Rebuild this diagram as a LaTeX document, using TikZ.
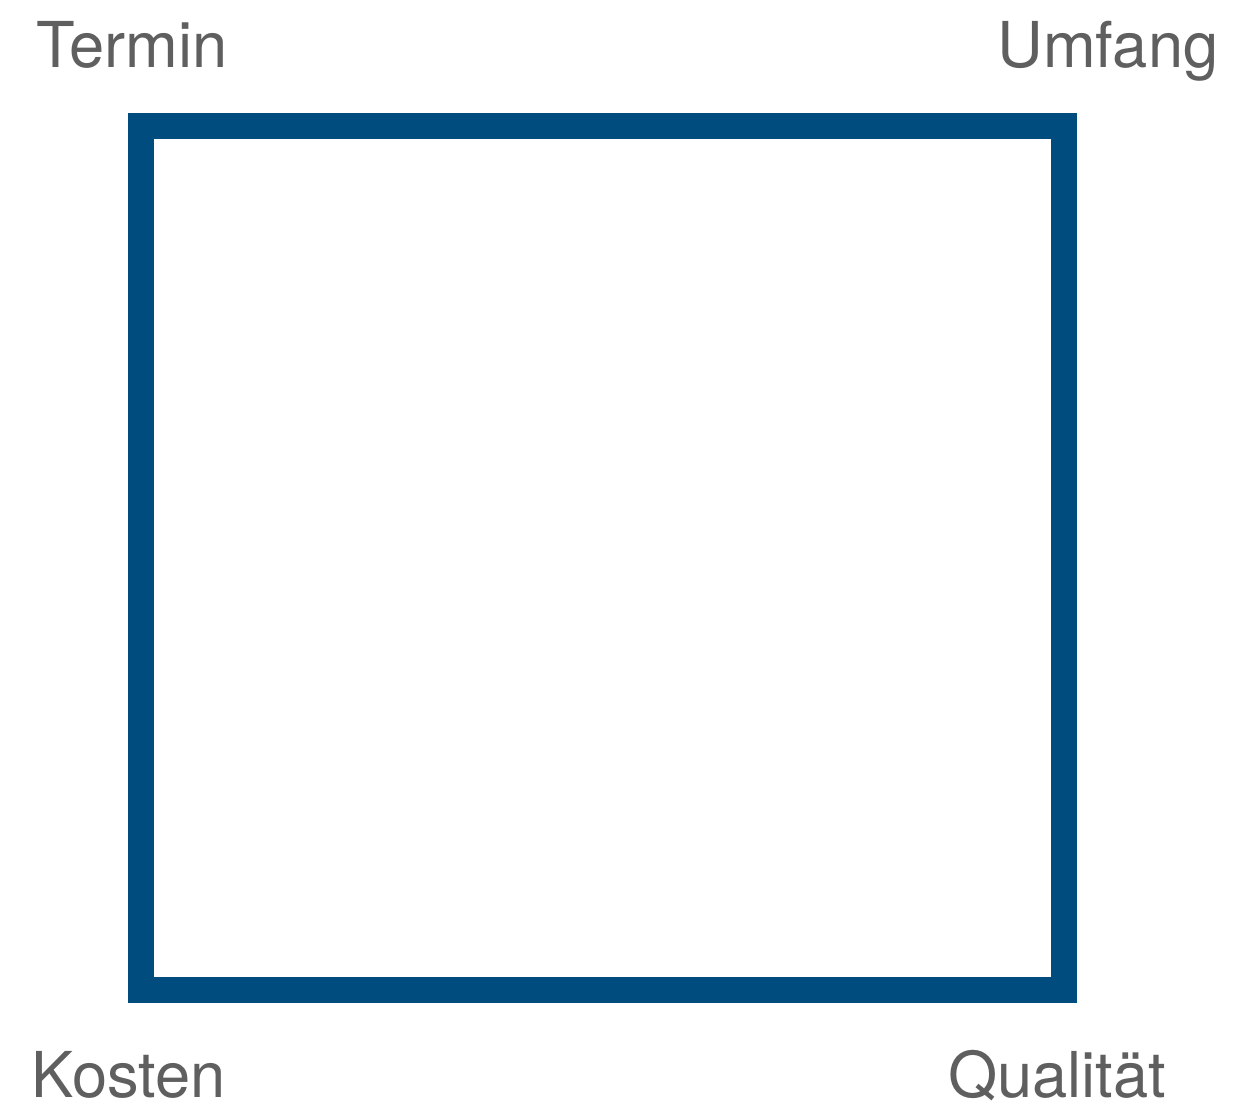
\documentclass[tikz,border=0pt]{standalone}
\usepackage{fontspec}
\setmainfont{TeX Gyre Heros}
\definecolor{framecol}{HTML}{004C7E}
\definecolor{labelcol}{HTML}{5F5F5F}
\tikzset{
  corner/.style={inner sep=0pt, text=labelcol, font=\fontsize{18}{20}\selectfont},
  frame/.style={draw=framecol, line width=0.26cm}
}

\begin{document}
\begin{tikzpicture}
\useasboundingbox (0,0) rectangle (12.35,11.12);
% square
\coordinate (sw) at (1.41,1.22);
\coordinate (ne) at (10.64,9.86);
\draw[frame] (sw) rectangle (ne);
% corner labels
\node[corner, anchor=base west] (termin) at (0.36,10.44) {Termin};
\node[corner, anchor=base east] (umfang) at (12.19,10.44) {Umfang};
\node[corner, anchor=base west] (kosten) at (0.31,0.14) {Kosten};
\node[corner, anchor=base east] (qualitaet) at (11.67,0.14) {Qualität};
\end{tikzpicture}
\end{document}
